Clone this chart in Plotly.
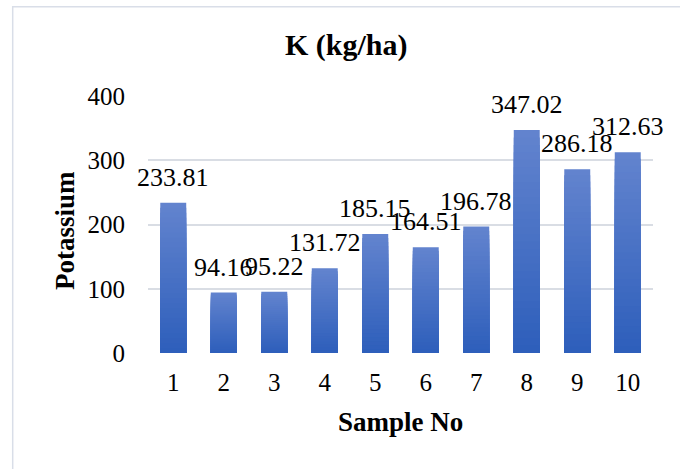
import plotly.graph_objects as go

# Potassium content per soil sample
samples = [1, 2, 3, 4, 5, 6, 7, 8, 9, 10]
potassium = [233.81, 94.16, 95.22, 131.72, 185.15, 164.51, 196.78, 347.02, 286.18, 312.63]
y_ticks = [0, 100, 200, 300, 400]

FONT = "Liberation Serif, Times New Roman, serif"
TOP_RGB = (98, 131, 206)
BOTTOM_RGB = (46, 95, 187)
N_STEPS = 30

fig = go.Figure()

# Vertical gradient per bar: overlay progressively shorter, darker bars
for k in range(N_STEPS):
    frac = (N_STEPS - k) / N_STEPS
    t = k / (N_STEPS - 1)
    r, g, b = (round(TOP_RGB[i] + (BOTTOM_RGB[i] - TOP_RGB[i]) * t) for i in range(3))
    fig.add_trace(go.Bar(
        x=samples,
        y=[v * frac for v in potassium],
        width=0.514,
        marker=dict(color=f"rgb({r},{g},{b})", line=dict(width=0)),
        hoverinfo="skip" if k else None,
        showlegend=False,
    ))

# Value labels above each bar
for s, v in zip(samples, potassium):
    fig.add_annotation(
        x=s, y=v, text=f"{v:.2f}", showarrow=False,
        yanchor="bottom", yshift=9,
        font=dict(family=FONT, size=26, color="black"),
    )

L, R, T, B = 148, 27, 96, 116
W, H = 680, 469
pw, ph = W - L - R, H - T - B

# Chart-area border
fig.add_shape(
    type="rect", xref="paper", yref="paper",
    x0=(12.7 - L) / pw, x1=(W + 20 - L) / pw,
    y0=-(H + 20 - (H - B)) / ph, y1=(H - B - 6.7) / ph,
    line=dict(color="#d9dee8", width=1.5), fillcolor="rgba(0,0,0,0)",
    layer="below",
)

fig.add_annotation(
    x=(346.5 - L) / pw, y=(H - B - 56) / ph, xref="paper", yref="paper",
    text="<b>K (kg/ha)</b>", showarrow=False, xanchor="center", yanchor="bottom",
    yshift=-8, font=dict(family=FONT, size=30, color="black"),
)
fig.add_annotation(
    x=0.5, y=-(432 - (H - B)) / ph, xref="paper", yref="paper",
    text="<b>Sample No</b>", showarrow=False, xanchor="center", yanchor="bottom",
    yshift=-7, font=dict(family=FONT, size=27, color="black"),
)
fig.add_annotation(
    x=-(L - 75) / pw, y=(H - B - 231) / ph, xref="paper", yref="paper",
    text="<b>Potassium</b>", showarrow=False, textangle=-90,
    xanchor="right", yanchor="middle", xshift=7,
    font=dict(family=FONT, size=27, color="black"),
)

fig.update_layout(
    width=W, height=H,
    margin=dict(l=L, r=R, t=T, b=B),
    barmode="overlay",
    plot_bgcolor="white", paper_bgcolor="white",
    font=dict(family=FONT, size=24, color="black"),
    showlegend=False,
)
fig.update_xaxes(
    range=[0.5, 10.5], tickvals=samples, showgrid=False, zeroline=False, showline=False,
    ticks="", ticklabelstandoff=12,
    tickfont=dict(family=FONT, size=25, color="black"),
)
fig.update_yaxes(
    range=[0, 400], tickvals=y_ticks, showgrid=True,
    gridcolor="#d9dde4", gridwidth=1.5, zeroline=False, showline=False,
    ticks="", ticklabelstandoff=22,
    tickfont=dict(family=FONT, size=25, color="black"),
)

fig.write_html("out.html")
